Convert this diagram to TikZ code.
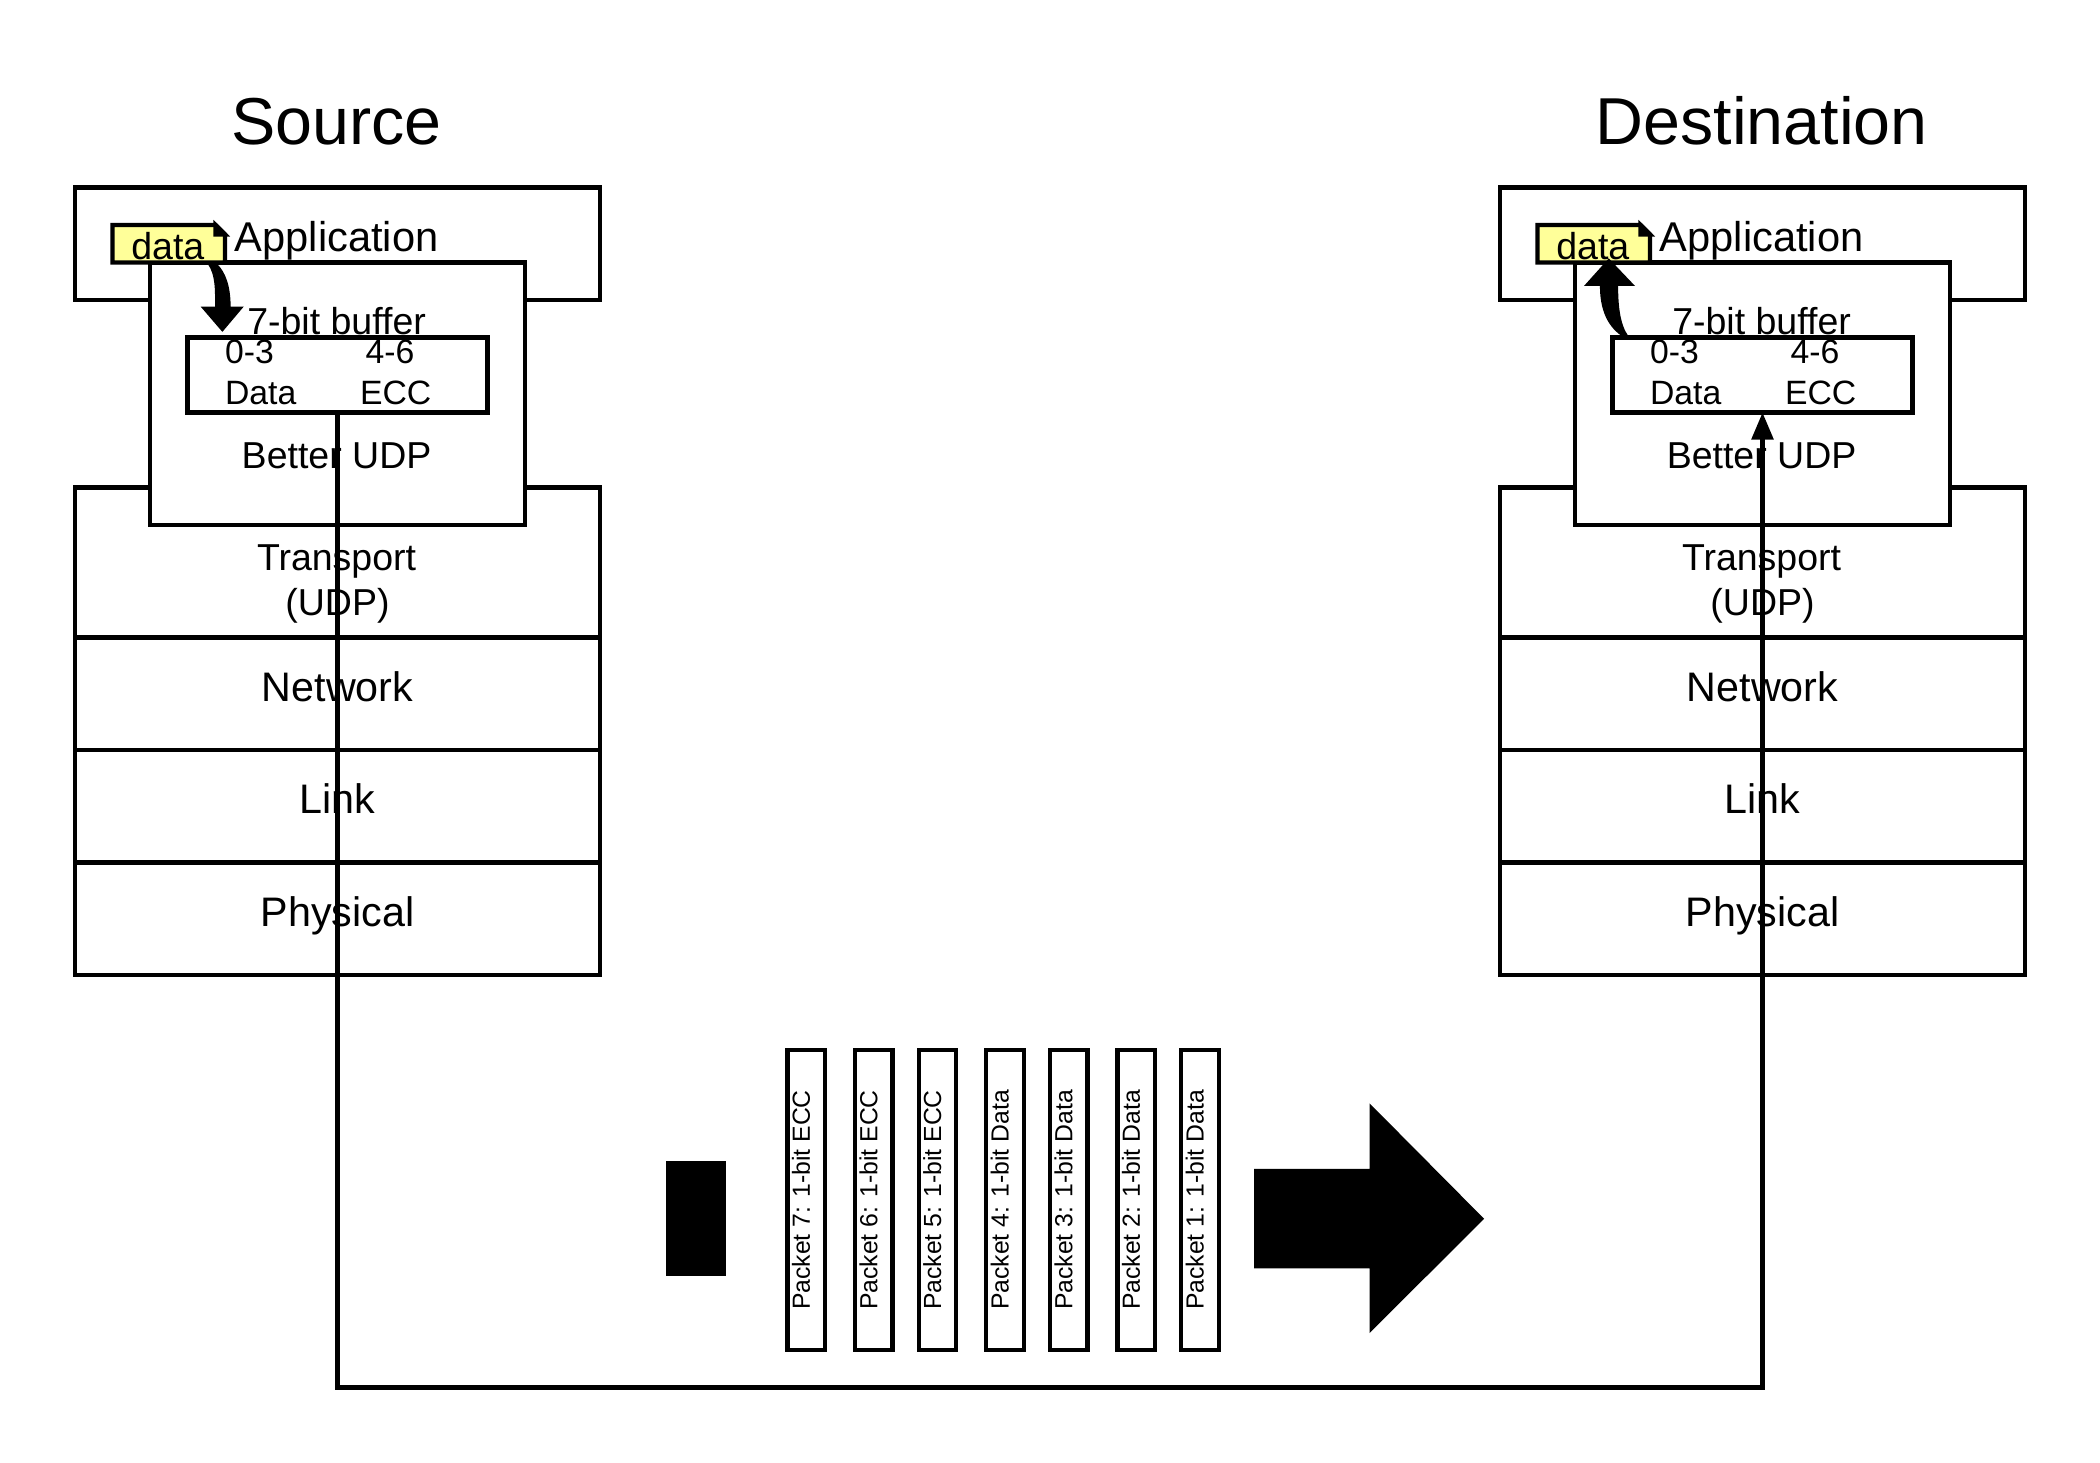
\documentclass[tikz,border=0pt]{standalone}
\usepackage{fontspec}
\setmainfont{Liberation Sans}
\usetikzlibrary{arrows.meta}
\definecolor{notefill}{HTML}{FFFF99}
\tikzset{
  boxed/.style={draw=black,line width=2.3pt,fill=white,rectangle,inner sep=0pt,outer sep=0pt,miter limit=10},
  txtbase/.style={inner sep=0pt,outer sep=0pt,anchor=base},
  txtleft/.style={inner sep=0pt,outer sep=0pt,anchor=base west},
  f35/.style={font=\fontsize{35.4}{40}\selectfont},
  f22/.style={font=\fontsize{22}{26}\selectfont},
  fapp/.style={font=\fontsize{22.2}{26}\selectfont},
  f20/.style={font=\fontsize{20}{24}\selectfont},
  f18/.style={font=\fontsize{18}{22}\selectfont},
  f13/.style={font=\fontsize{13.2}{16}\selectfont},
  packetbox/.style={boxed,minimum width=20pt,minimum height=160pt},
  packettxt/.style={txtbase,f13,rotate=90},
  link/.style={draw=black,line width=2.3pt,miter limit=10},
}
\newcommand{\hoststack}[3]{%
  % #1 prefix, #2 x shift, #3 title
  \begin{scope}[shift={(#2,0)}]
    \node[boxed,minimum width=280pt,minimum height=60pt] (#1app) at (180,130) {};
    \node[boxed,minimum width=280pt,minimum height=80pt] (#1trans) at (180,300) {};
    \node[boxed,minimum width=280pt,minimum height=60pt] (#1net) at (180,370) {};
    \node[boxed,minimum width=280pt,minimum height=60pt] (#1lnk) at (180,430) {};
    \node[boxed,minimum width=280pt,minimum height=60pt] (#1phys) at (180,490) {};
    \node[boxed,minimum width=200pt,minimum height=140pt] (#1udp) at (180,210) {};
    \node[boxed,minimum width=160pt,minimum height=40pt] (#1buf) at (180,200) {};
    \node[txtbase,f35] (#1title) at (179.5,77) {#3};
    \node[txtbase,fapp] (#1apptxt) at (179.5,134) {Application};
    \node[txtbase,f20] (#1buftxt) at (179.5,178.6) {7-bit buffer};
    \node[txtleft,f18] (#1r) at (120,194.1) {0-3};
    \node[txtleft,f18] (#1s) at (195,194.1) {4-6};
    \node[txtleft,f18] (#1d) at (120,215.9) {Data};
    \node[txtleft,f18] (#1e) at (192,215.9) {ECC};
    \node[txtbase,f20] (#1udptxt) at (179.5,250.1) {Better UDP};
    \node[txtbase,f20] (#1ttxt) at (179.5,304) {Transport};
    \node[txtbase,f20] (#1utxt) at (180,328) {(UDP)};
    \node[txtbase,f22] (#1ntxt) at (180,374) {Network};
    \node[txtbase,f22] (#1ltxt) at (180,434) {Link};
    \node[txtbase,f22] (#1ptxt) at (180,494) {Physical};
    % note
    \filldraw[draw=black,fill=notefill,line width=2.3pt,miter limit=10]
      (60,120) -- (115,120) -- (120,125) -- (120,140) -- (60,140) -- cycle;
    \filldraw[draw=black,fill=black,line width=2.3pt,miter limit=10]
      (115,120) -- (115,125) -- (120,125) -- cycle;
    \node[txtbase,f20] (#1data) at (89.5,138.4) {data};
  \end{scope}}
\begin{document}
\begin{tikzpicture}[x=1pt,y=-1pt]
\useasboundingbox (0,0) rectangle (1120,780);
\hoststack{a}{0}{Source}
\hoststack{b}{760}{Destination}
% connector
\coordinate (turn) at (0,740);
\draw[link,-{Triangle[length=14.5pt,width=11.5pt]}] (abuf.south) -- (abuf.south |- turn) -- (bbuf.south |- turn) -- (bbuf.south);
% curved block arrows
\fill[black] (111,141) .. controls (115,147) and (114.7,155) .. (114.7,163.5)
  -- (107,163.5) -- (118.6,177) -- (130,163.5) -- (123,163.5)
  .. controls (123,152) and (120,145) .. (116,141) -- cycle;
\fill[black] (858,137.8) -- (844.8,152.5) -- (853.3,152.5)
  .. controls (853.3,163) and (856,173) .. (864.9,179.2) -- (868.4,179.2)
  .. controls (864,173) and (863,163) .. (863,152.5) -- (872,152.5) -- cycle;
% packets
\node[packetbox] (p7) at (430,640) {};
\node[packetbox] (p6) at (466,640) {};
\node[packetbox] (p5) at (500,640) {};
\node[packetbox] (p4) at (536,640) {};
\node[packetbox] (p3) at (570,640) {};
\node[packetbox] (p2) at (606,640) {};
\node[packetbox] (p1) at (640,640) {};
\node[packettxt] (t7) at (431.9,640) {Packet 7: 1-bit ECC};
\node[packettxt] (t6) at (467.9,640) {Packet 6: 1-bit ECC};
\node[packettxt] (t5) at (501.9,640) {Packet 5: 1-bit ECC};
\node[packettxt] (t4) at (537.9,640) {Packet 4: 1-bit Data};
\node[packettxt] (t3) at (571.9,640) {Packet 3: 1-bit Data};
\node[packettxt] (t2) at (607.9,640) {Packet 2: 1-bit Data};
\node[packettxt] (t1) at (641.9,640) {Packet 1: 1-bit Data};
% black shapes
\fill[black] (355,619) rectangle (387,680.5);
\fill[black] (668.8,623.4) -- (730.4,623.4) -- (730.4,588.4) -- (791.5,650) -- (730.4,711) -- (730.4,676.4) -- (668.8,676.4) -- cycle;
\end{tikzpicture}
\end{document}
